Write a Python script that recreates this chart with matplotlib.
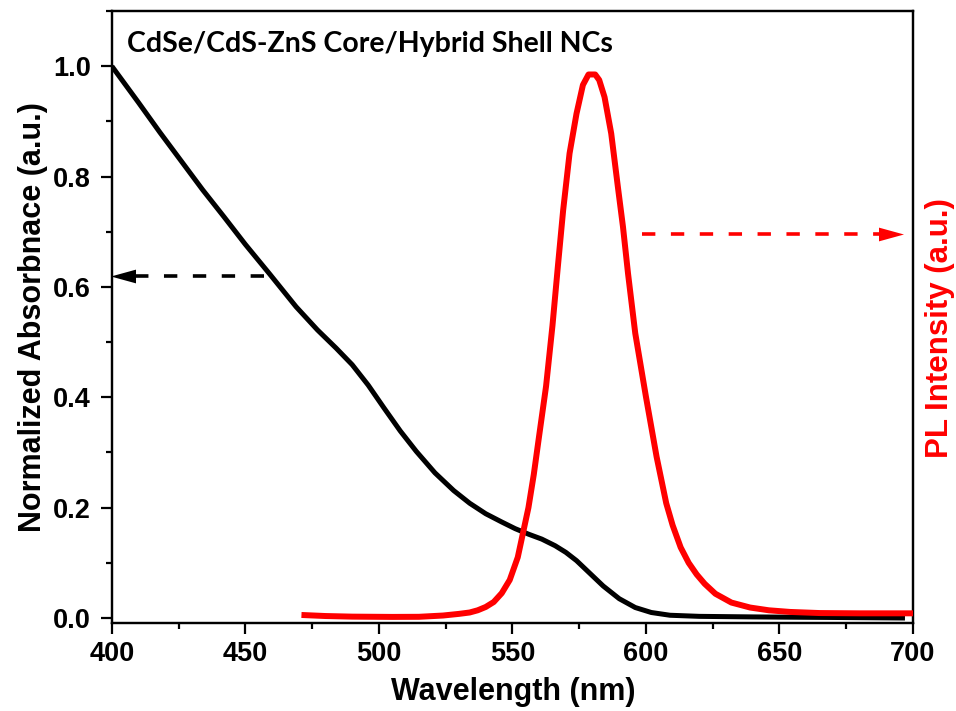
import numpy as np
import matplotlib
matplotlib.use("Agg")
import matplotlib.pyplot as plt
from matplotlib.ticker import MultipleLocator

# Absorbance spectrum (normalized)
abs_wl = [400, 410, 418, 426, 434, 442, 450, 459, 469, 477, 484, 490, 496,
          502, 508, 514, 521, 528, 534, 540, 546, 551, 556, 561, 566, 570,
          574, 579, 584, 590, 596, 602, 609, 620, 640, 670, 697]
abs_val = [1.000, 0.934, 0.880, 0.828, 0.776, 0.727, 0.677, 0.624, 0.564,
           0.522, 0.489, 0.459, 0.422, 0.380, 0.339, 0.302, 0.263, 0.231,
           0.208, 0.189, 0.174, 0.162, 0.152, 0.143, 0.131, 0.119, 0.104,
           0.081, 0.058, 0.035, 0.019, 0.010, 0.005, 0.003, 0.002, 0.001,
           0.000]

# Photoluminescence spectrum (normalized)
pl_wl = [471, 480, 490, 505, 515, 524, 530, 534, 537, 540, 543, 546, 549,
         552, 554, 556, 558, 560, 562.6, 565, 567, 569, 571.4, 574, 576.4,
         578.5, 581, 582.5, 584.5, 587, 589.5, 591.4, 593.3, 596, 600, 604,
         607.6, 610, 613, 616, 619, 622, 626, 632, 639, 646, 654, 665, 680,
         700]
pl_val = [0.0055, 0.0036, 0.0025, 0.0020, 0.0022, 0.0045, 0.0075, 0.010,
          0.014, 0.020, 0.029, 0.045, 0.069, 0.110, 0.155, 0.200, 0.260,
          0.330, 0.420, 0.530, 0.636, 0.739, 0.842, 0.914, 0.966, 0.985,
          0.985, 0.975, 0.944, 0.878, 0.781, 0.709, 0.624, 0.516, 0.401,
          0.292, 0.208, 0.168, 0.128, 0.100, 0.079, 0.062, 0.044, 0.028,
          0.019, 0.014, 0.011, 0.009, 0.0085, 0.0085]

# arrows pointing to each curve's axis: (start, head base, tip, level)
abs_arrow = (457, 407.5, 400.75, 0.620)
pl_arrow = (598.7, 688.7, 695.0, 0.696)

x_ticks = [400, 450, 500, 550, 600, 650, 700]
y_ticks = [0.0, 0.2, 0.4, 0.6, 0.8, 1.0]

FONT = "Liberation Sans"
YLIM = (-0.009, 1.10)

fig = plt.figure(figsize=(9.56, 7.11), dpi=100)
ax = fig.add_axes([0.117, 0.1238, 0.838, 0.8607])
ax2 = ax.twinx()

ax.plot(abs_wl, abs_val, color="black", lw=3.6, solid_capstyle="butt",
        solid_joinstyle="round", zorder=3)
ax2.plot(pl_wl, pl_val, color="#ff0000", lw=4.3, solid_capstyle="butt",
         solid_joinstyle="round", zorder=3)

# dashed arrows
head_l = [(-1, 0), (1, 0.55), (1, -0.55)]
head_r = [(1, 0), (-1, 0.55), (-1, -0.55)]
s, b, t, lvl = abs_arrow
ax.plot([s, b], [lvl, lvl], color="black", lw=2.6, dashes=(3.7, 4.3))
ax.plot([(b + t) / 2], [lvl], marker=head_l, ms=18, color="black", mew=0)
s, b, t, lvl = pl_arrow
ax2.plot([s, b], [lvl, lvl], color="#ff0000", lw=2.6, dashes=(3.7, 4.3))
ax2.plot([(b + t) / 2], [lvl], marker=head_r, ms=18, color="#ff0000", mew=0)

ax.set_xlim(400, 700)
ax.set_ylim(*YLIM)
ax2.set_ylim(*YLIM)

ax.set_xticks(x_ticks)
ax.set_yticks(y_ticks)
ax.xaxis.set_minor_locator(MultipleLocator(25))
ax.yaxis.set_minor_locator(MultipleLocator(0.1))
ax.set_xticklabels([str(v) for v in x_ticks], fontfamily=FONT,
                   fontweight="bold", fontsize=19.5)
ax.set_yticklabels([f"{v:.1f}" for v in y_ticks], fontfamily=FONT,
                   fontweight="bold", fontsize=19.5)
ax.tick_params(which="major", direction="out", length=8, width=1.6, pad=5)
ax.tick_params(which="minor", direction="out", length=4.5, width=1.6)
ax.tick_params(axis="y", which="major", pad=7)
ax2.set_yticks([])

for a in (ax, ax2):
    for sp in a.spines.values():
        sp.set_linewidth(1.6)

ax.set_xlabel("Wavelength (nm)", fontfamily=FONT, fontweight="bold",
              fontsize=22)
ax.set_ylabel("Normalized Absorbnace (a.u.)", fontfamily=FONT,
              fontweight="bold", fontsize=22)
ax2.set_ylabel("PL Intensity (a.u.)", fontfamily=FONT, fontweight="bold",
               fontsize=22.5, color="#ff0000")
ax.xaxis.set_label_coords(0.5006, -0.088)
ax.yaxis.set_label_coords(-0.080, 0.5)
ax2.yaxis.set_label_coords(1.015, 0.482)

ax.text(405.6, 1.025, "CdSe/CdS-ZnS Core/Hybrid Shell NCs", fontfamily="Lato",
        fontweight="bold", fontsize=20.5, ha="left", va="baseline")

fig.savefig("out.png", dpi=100, facecolor="white")
